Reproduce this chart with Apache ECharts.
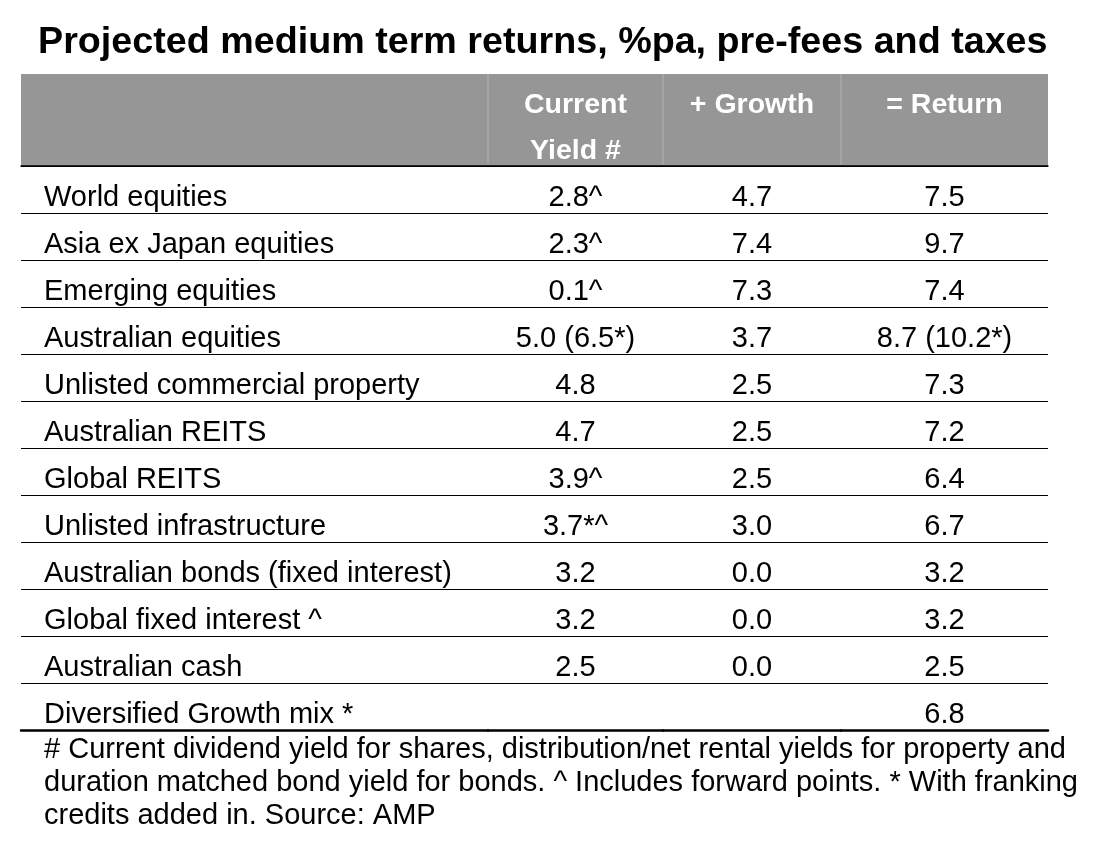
<!DOCTYPE html>
<html>
<head>
<meta charset="utf-8">
<script src="https://cdn.jsdelivr.net/npm/echarts@6/dist/echarts.min.js"></script>
<style>
  html, body { margin: 0; padding: 0; background: #fff; }
  #main { width: 1101px; height: 847px; }
</style>
</head>
<body>
<div id="main"></div>
<script>
// table data
const rowNames = [
    'World equities',
    'Asia ex Japan equities',
    'Emerging equities',
    'Australian equities',
    'Unlisted commercial property',
    'Australian REITS',
    'Global REITS',
    'Unlisted infrastructure',
    'Australian bonds (fixed interest)',
    'Global fixed interest ^',
    'Australian cash',
    'Diversified Growth mix *'
];
const yieldValues  = [2.8, 2.3, 0.1, 5.0, 4.8, 4.7, 3.9, 3.7, 3.2, 3.2, 2.5, null];
const yieldNotes   = ['^', '^', '^', ' (6.5*)', '', '', '^', '*^', '', '', '', ''];
const growthValues = [4.7, 7.4, 7.3, 3.7, 2.5, 2.5, 2.5, 3.0, 0.0, 0.0, 0.0, null];
const growthNotes  = ['', '', '', '', '', '', '', '', '', '', '', ''];
const returnValues = [7.5, 9.7, 7.4, 8.7, 7.3, 7.2, 6.4, 6.7, 3.2, 3.2, 2.5, 6.8];
const returnNotes  = ['', '', '', ' (10.2*)', '', '', '', '', '', '', '', ''];
const columnTitles = ['', 'Current\nYield #', '+ Growth', '= Return'];

const titleText = 'Projected medium term returns, %pa, pre-fees and taxes';
const footnoteText = '# Current dividend yield for shares, distribution/net rental yields for property and\n' +
    'duration matched bond yield for bonds. ^ Includes forward points. * With franking\n' +
    'credits added in. Source: AMP';

// layout
const colEdges = [21, 488, 663, 841, 1048];
const tableTop = 166;
const tableBottom = 730;
const headerTop = 74;
const textDrop = 8;   // row text sits a little low in each row
const FONT = '"Liberation Sans", Arial, sans-serif';

const chart = echarts.init(document.getElementById('main'), null, { renderer: 'canvas' });

const columns = [null,
    { values: yieldValues, notes: yieldNotes },
    { values: growthValues, notes: growthNotes },
    { values: returnValues, notes: returnNotes }
];

const grids = [], xAxes = [], yAxes = [], series = [];

columnTitles.forEach((colTitle, i) => {
    grids.push({
        left: colEdges[i],
        width: colEdges[i + 1] - colEdges[i],
        top: tableTop,
        height: tableBottom - tableTop
    });
    // header labels + header rule
    xAxes.push({
        type: 'category',
        gridIndex: i,
        position: 'top',
        data: [colTitle],
        axisLine: { show: true, lineStyle: { color: '#000', width: 1.5 } },
        axisTick: { show: false },
        axisLabel: {
            color: '#fff',
            fontWeight: 'bold',
            fontSize: 28.5,
            lineHeight: 46,
            verticalAlign: 'top',
            margin: tableTop - headerTop - 8,
            fontFamily: FONT
        }
    });
    // bottom rule
    xAxes.push({
        type: 'category',
        gridIndex: i,
        position: 'bottom',
        data: [colTitle],
        axisLine: { show: true, lineStyle: { color: '#000', width: 2.5 } },
        axisTick: { show: false },
        axisLabel: { show: false }
    });
    yAxes.push({
        type: 'category',
        gridIndex: i,
        inverse: true,
        data: rowNames,
        axisLine: { show: false },
        axisTick: { show: false },
        splitLine: { show: true, interval: 0, lineStyle: { color: '#000', width: 1.2 } },
        axisLabel: i === 0 ? {
            show: true,
            inside: true,
            interval: 0,
            margin: 23,
            fontSize: 29,
            color: '#000',
            verticalAlign: 'top',
            lineHeight: textDrop * 2,
            fontFamily: FONT
        } : { show: false }
    });

    if (i > 0) {
        const col = columns[i];
        const data = [];
        col.values.forEach((v, r) => {
            if (v === null) return;
            data.push([colTitle, rowNames[r], v.toFixed(1) + col.notes[r]]);
        });
        series.push({
            type: 'scatter',
            xAxisIndex: i * 2,
            yAxisIndex: i,
            symbolSize: 0,
            itemStyle: { color: '#000', opacity: 1 },
            label: {
                show: true,
                position: 'inside',
                offset: [0, textDrop],
                formatter: p => p.value[2],
                fontSize: 29,
                color: '#000',
                textBorderWidth: 0,
                fontFamily: FONT
            },
            data: data
        });
    }
});

const option = {
    backgroundColor: '#fff',
    animation: false,
    textStyle: { fontFamily: FONT },
    title: [{
        text: titleText,
        left: 38,
        top: 23,
        padding: 0,
        textStyle: { fontSize: 37.7, fontWeight: 'bold', color: '#000', lineHeight: 40, fontFamily: FONT }
    }, {
        text: footnoteText,
        left: 44,
        top: 733,
        padding: 0,
        textStyle: { fontSize: 29, fontWeight: 'normal', color: '#000', lineHeight: 33, fontFamily: FONT }
    }],
    grid: grids,
    xAxis: xAxes,
    yAxis: yAxes,
    series: series,
    // header band
    graphic: [{
        type: 'rect',
        z: -1,
        shape: { x: colEdges[0], y: headerTop, width: colEdges[4] - colEdges[0], height: tableTop - headerTop },
        style: { fill: '#969696' }
    }].concat(colEdges.slice(1, 4).map(x => ({
        type: 'line',
        z: -1,
        shape: { x1: x, y1: headerTop, x2: x, y2: tableTop },
        style: { stroke: '#a9a9a9', lineWidth: 1.5 }
    })))
};

chart.setOption(option);
</script>
</body>
</html>
